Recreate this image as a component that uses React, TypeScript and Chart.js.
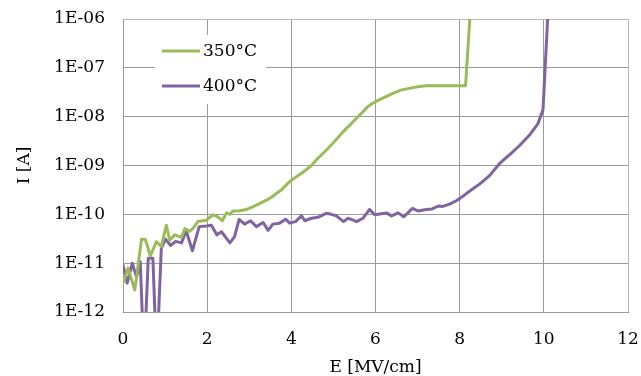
import React, { useEffect, useRef } from 'react';
import { Chart, registerables } from 'chart.js';

Chart.register(...registerables);

const seriesLabels = ['350°C', '400°C'];
const seriesColors = ['#9BBB59', '#8064A2'];

const e350 = [0, 0.12, 0.28, 0.44, 0.53, 0.65, 0.79, 0.91, 1.03, 1.11, 1.23, 1.39, 1.47, 1.58, 1.66, 1.78, 1.9, 1.98, 2.14, 2.25, 2.36, 2.46, 2.54, 2.61, 2.75, 2.93, 3.05, 3.17, 3.29, 3.41, 3.53, 3.65, 3.77, 3.88, 4.0, 4.12, 4.24, 4.36, 4.48, 4.6, 4.72, 4.84, 4.96, 5.08, 5.2, 5.32, 5.44, 5.56, 5.68, 5.8, 5.92, 6.04, 6.2, 6.4, 6.6, 6.8, 7.0, 7.2, 7.5, 7.8, 8.14, 8.3];
const i350 = [3.9e-12, 7.9e-12, 2.8e-12, 3.1e-11, 3.1e-11, 1.4e-11, 2.75e-11, 2.2e-11, 6.0e-11, 2.95e-11, 3.8e-11, 3.4e-11, 5.1e-11, 4.5e-11, 5.1e-11, 7.1e-11, 7.4e-11, 7.6e-11, 9.8e-11, 8.9e-11, 7.4e-11, 1.07e-10, 1.0e-10, 1.17e-10, 1.17e-10, 1.26e-10, 1.38e-10, 1.55e-10, 1.74e-10, 1.95e-10, 2.24e-10, 2.7e-10, 3.2e-10, 4.0e-10, 5.0e-10, 5.9e-10, 6.9e-10, 8.3e-10, 1.0e-9, 1.32e-9, 1.66e-9, 2.1e-9, 2.7e-9, 3.5e-9, 4.6e-9, 5.9e-9, 7.4e-9, 9.5e-9, 1.2e-8, 1.55e-8, 1.86e-8, 2.1e-8, 2.45e-8, 2.95e-8, 3.5e-8, 3.8e-8, 4.1e-8, 4.3e-8, 4.3e-8, 4.3e-8, 4.3e-8, 6.3e-6];

const e400 = [0, 0.1, 0.22, 0.32, 0.41, 0.5, 0.6, 0.71, 0.8, 0.91, 1.01, 1.13, 1.25, 1.39, 1.5, 1.65, 1.81, 1.98, 2.1, 2.23, 2.34, 2.54, 2.65, 2.76, 2.89, 3.03, 3.17, 3.33, 3.45, 3.56, 3.72, 3.87, 3.96, 4.1, 4.24, 4.32, 4.48, 4.63, 4.83, 4.95, 5.07, 5.24, 5.35, 5.47, 5.55, 5.7, 5.86, 5.98, 6.1, 6.26, 6.38, 6.54, 6.67, 6.88, 7.01, 7.21, 7.35, 7.49, 7.6, 7.76, 7.92, 8.0, 8.24, 8.48, 8.71, 8.95, 9.23, 9.43, 9.66, 9.86, 9.98, 10.12];
const i400 = [9.1e-12, 3.9e-12, 1.0e-11, 5.2e-12, 1.07e-11, 1e-13, 1.26e-11, 1.26e-11, 1e-13, 2.0e-11, 3.1e-11, 2.3e-11, 2.8e-11, 2.6e-11, 4.6e-11, 1.8e-11, 5.6e-11, 5.8e-11, 6.0e-11, 3.8e-11, 4.4e-11, 2.6e-11, 3.5e-11, 7.9e-11, 6.3e-11, 7.4e-11, 5.6e-11, 6.8e-11, 4.7e-11, 6.3e-11, 6.6e-11, 7.9e-11, 6.6e-11, 7.1e-11, 9.3e-11, 7.4e-11, 8.3e-11, 8.7e-11, 1.05e-10, 1.0e-10, 9.3e-11, 7.1e-11, 8.3e-11, 7.6e-11, 7.1e-11, 8.3e-11, 1.26e-10, 9.8e-11, 1.02e-10, 1.07e-10, 9.3e-11, 1.07e-10, 8.9e-11, 1.32e-10, 1.17e-10, 1.26e-10, 1.29e-10, 1.48e-10, 1.45e-10, 1.62e-10, 1.9e-10, 2.1e-10, 3.0e-10, 4.2e-10, 6.2e-10, 1.1e-9, 1.8e-9, 2.6e-9, 4.2e-9, 7.2e-9, 1.38e-8, 3.2e-6];

const xTickValues = [0, 2, 4, 6, 8, 10, 12];
const yTickValues = [1e-12, 1e-11, 1e-10, 1e-9, 1e-8, 1e-7, 1e-6];
const yTickLabels = ['1E-12', '1E-11', '1E-10', '1E-09', '1E-08', '1E-07', '1E-06'];
const xTitle = 'E [MV/cm]';
const yTitle = 'I [A]';

const FONT = '"DejaVu Serif", serif';

const insideLegend = {
  id: 'insideLegend',
  afterDatasetsDraw(chart: any) {
    const { ctx, chartArea } = chart;
    const left = chartArea.left + 32;
    const top = chartArea.top + 16;
    ctx.save();
    ctx.fillStyle = '#ffffff';
    ctx.fillRect(left, top, 111, 69);
    chart.data.datasets.forEach((ds: any, i: number) => {
      const y = top + 16 + i * 35;
      ctx.strokeStyle = ds.borderColor;
      ctx.lineWidth = 3;
      ctx.lineCap = 'butt';
      ctx.beginPath();
      ctx.moveTo(left + 7, y);
      ctx.lineTo(left + 45, y);
      ctx.stroke();
      ctx.fillStyle = '#000000';
      ctx.font = `17px ${FONT}`;
      ctx.textAlign = 'left';
      ctx.textBaseline = 'middle';
      ctx.fillText(ds.label, left + 48, y + 1);
    });
    ctx.restore();
  },
};

export default function App() {
  const ref = useRef<HTMLCanvasElement | null>(null);

  useEffect(() => {
    if (!ref.current) return;
    const gridColor = (c: any) =>
      c.index === 0 || c.index === (c.scale.ticks.length - 1) ? '#b8b8b8' : '#9a9a9a';
    const chart = new Chart(ref.current, {
      type: 'line',
      data: {
        datasets: [
          {
            label: seriesLabels[0],
            data: e350.map((x, i) => ({ x, y: i350[i] })),
            borderColor: seriesColors[0],
            backgroundColor: seriesColors[0],
            borderWidth: 3,
            pointRadius: 0,
            tension: 0,
            borderJoinStyle: 'round',
            borderCapStyle: 'round',
          },
          {
            label: seriesLabels[1],
            data: e400.map((x, i) => ({ x, y: i400[i] })),
            borderColor: seriesColors[1],
            backgroundColor: seriesColors[1],
            borderWidth: 3,
            pointRadius: 0,
            tension: 0,
            borderJoinStyle: 'round',
            borderCapStyle: 'round',
          },
        ],
      },
      options: {
        responsive: false,
        animation: false,
        layout: { padding: { top: 19, right: 13, left: 0, bottom: 0 } },
        plugins: { legend: { display: false }, tooltip: { enabled: false } },
        scales: {
          x: {
            type: 'linear',
            min: 0,
            max: 12,
            afterBuildTicks: (s: any) => {
              s.ticks = xTickValues.map((v) => ({ value: v }));
            },
            afterFit: (s: any) => {
              s.height = 64;
              s.paddingLeft = 0;
              s.paddingRight = 0;
            },
            grid: { color: gridColor, drawTicks: false, lineWidth: 1 },
            border: { color: '#9a9a9a' },
            ticks: {
              padding: 17,
              color: '#000',
              font: { family: FONT, size: 17 },
              maxRotation: 0,
              callback: (v: any) => String(v),
            },
            title: {
              display: true,
              text: xTitle,
              color: '#000',
              font: { family: FONT, size: 17, lineHeight: 1 },
              padding: { top: 0, bottom: 0 },
            },
          },
          y: {
            type: 'logarithmic',
            min: 1e-12,
            max: 1e-6,
            afterBuildTicks: (s: any) => {
              s.ticks = yTickValues.map((v) => ({ value: v }));
            },
            afterFit: (s: any) => {
              s.width = 123;
              s.paddingTop = 0;
              s.paddingBottom = 0;
            },
            grid: { color: gridColor, drawTicks: false, lineWidth: 1 },
            border: { color: '#9a9a9a' },
            ticks: {
              padding: 18,
              color: '#000',
              font: { family: FONT, size: 17 },
              callback: (v: any) => {
                const i = yTickValues.findIndex((t) => Math.abs(Math.log10(t) - Math.log10(v)) < 1e-6);
                return i >= 0 ? yTickLabels[i] : '';
              },
            },
            title: {
              display: true,
              text: yTitle,
              color: '#000',
              font: { family: FONT, size: 17, lineHeight: 1.2 },
              padding: { top: 14, bottom: 0 },
            },
          },
        },
      },
      plugins: [insideLegend],
    } as any);
    return () => chart.destroy();
  }, []);

  return (
    <div style={{ position: 'fixed', left: 0, top: 0, width: 641, height: 376, background: '#fff' }}>
      <canvas ref={ref} width={641} height={376} style={{ display: 'block' }} />
    </div>
  );
}
